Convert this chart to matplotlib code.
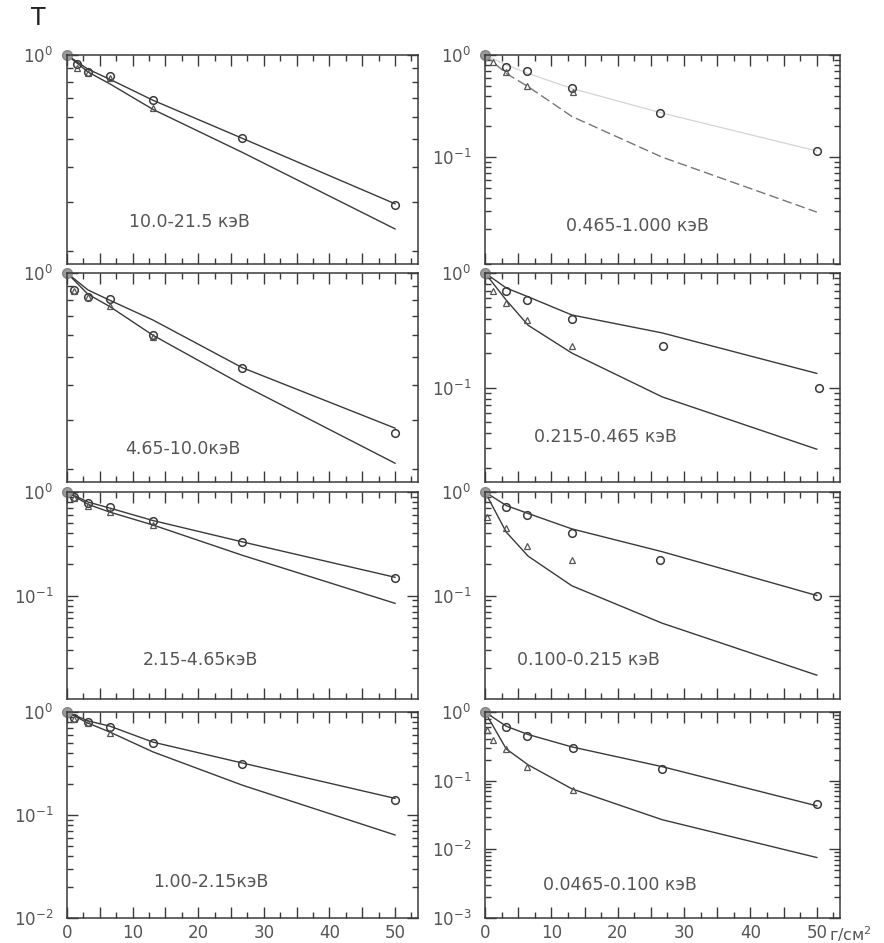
import numpy as np
import matplotlib
matplotlib.use('Agg')
import matplotlib.pyplot as plt
from matplotlib.ticker import MultipleLocator, LogLocator, FixedLocator, FuncFormatter, NullFormatter

# x positions (г/см^2) of the model curves
X_LINE = [0.0, 3.2, 6.5, 13.1, 26.7, 50.0]

# ---- left column ----
p1_label = '10.0-21.5 кэВ'
p1_circ_x = [0.0, 1.6, 3.2, 6.5, 13.1, 26.7, 50.0]
p1_circ_t = [1.0, 0.93, 0.87, 0.84, 0.69, 0.505, 0.293]
p1_tri_x = [1.6, 3.2, 6.5, 13.1]
p1_tri_t = [0.90, 0.86, 0.83, 0.65]
p1_upper = [1.0, 0.89, 0.82, 0.69, 0.505, 0.295]
p1_lower = [1.0, 0.87, 0.79, 0.64, 0.45, 0.24]

p3_label = '4.65-10.0кэВ'
p3_circ_x = [0.0, 1.1, 3.2, 6.5, 13.1, 26.7, 50.0]
p3_circ_t = [1.0, 0.87, 0.82, 0.81, 0.60, 0.46, 0.27]
p3_tri_x = [1.1, 3.2, 6.5, 13.1]
p3_tri_t = [0.86, 0.82, 0.76, 0.59]
p3_upper = [1.0, 0.87, 0.80, 0.68, 0.46, 0.28]
p3_lower = [1.0, 0.84, 0.76, 0.60, 0.40, 0.21]

p5_label = '2.15-4.65кэВ'
p5_circ_x = [0.0, 1.1, 3.2, 6.5, 13.1, 26.7, 50.0]
p5_circ_t = [1.0, 0.90, 0.78, 0.72, 0.53, 0.33, 0.146]
p5_tri_x = [1.1, 3.2, 6.5, 13.1]
p5_tri_t = [0.88, 0.74, 0.64, 0.48]
p5_upper = [1.0, 0.80, 0.70, 0.53, 0.33, 0.15]
p5_lower = [1.0, 0.76, 0.64, 0.48, 0.245, 0.084]

p7_label = '1.00-2.15кэВ'
p7_circ_x = [0.0, 1.1, 3.2, 6.5, 13.1, 26.7, 50.0]
p7_circ_t = [1.0, 0.88, 0.80, 0.71, 0.50, 0.31, 0.14]
p7_tri_x = [1.1, 3.2, 6.5]
p7_tri_t = [0.86, 0.78, 0.62]
p7_upper = [1.0, 0.82, 0.73, 0.51, 0.32, 0.145]
p7_lower = [1.0, 0.78, 0.64, 0.41, 0.195, 0.064]

# ---- right column ----
p2_label = '0.465-1.000 кэВ'
p2_circ_x = [0.0, 3.2, 6.3, 13.1, 26.4, 50.0]
p2_circ_t = [1.0, 0.76, 0.70, 0.47, 0.27, 0.115]
p2_tri_x = [1.2, 3.2, 6.3, 13.2]
p2_tri_t = [0.85, 0.68, 0.50, 0.43]
p2_upper = [1.0, 0.80, 0.66, 0.47, 0.27, 0.115]
p2_lower = [1.0, 0.66, 0.49, 0.25, 0.10, 0.029]

p4_label = '0.215-0.465 кэВ'
p4_circ_x = [0.0, 3.2, 6.3, 13.1, 26.8, 50.4]
p4_circ_t = [1.0, 0.70, 0.58, 0.40, 0.23, 0.10]
p4_tri_x = [1.2, 3.2, 6.3, 13.1]
p4_tri_t = [0.70, 0.545, 0.39, 0.23]
p4_upper = [1.0, 0.74, 0.62, 0.43, 0.30, 0.133]
p4_lower = [1.0, 0.58, 0.35, 0.20, 0.083, 0.029]

p6_label = '0.100-0.215 кэВ'
p6_circ_x = [0.0, 3.2, 6.3, 13.1, 26.4, 50.0]
p6_circ_t = [1.0, 0.72, 0.60, 0.40, 0.22, 0.10]
p6_tri_x = [0.3, 3.2, 6.3, 13.1]
p6_tri_t = [0.57, 0.45, 0.30, 0.22]
p6_upper = [1.0, 0.74, 0.62, 0.44, 0.265, 0.10]
p6_lower = [1.0, 0.41, 0.24, 0.124, 0.054, 0.017]

p8_label = '0.0465-0.100 кэВ'
p8_circ_x = [0.0, 3.2, 6.3, 13.2, 26.7, 50.0]
p8_circ_t = [1.0, 0.61, 0.45, 0.30, 0.15, 0.046]
p8_tri_x = [0.3, 1.2, 3.2, 6.3, 13.2]
p8_tri_t = [0.55, 0.39, 0.29, 0.16, 0.074]
p8_upper = [1.0, 0.62, 0.47, 0.31, 0.16, 0.043]
p8_lower = [1.0, 0.29, 0.17, 0.076, 0.027, 0.0076]

INK = '#3a3a3a'
TXT = '#555555'

# panel layout in figure pixels
cols = [(67, 418), (485, 840)]
rows = [(55, 264), (273, 482), (492, 699), (712, 918)]
W, H = 884, 943

panels = [
    # (col, row, label, label pos, ylim, labelled decades, data...)
    (0, 0, p1_label, (0.35, 0.20), (0.18, 1.0), [1], p1_circ_x, p1_circ_t, p1_tri_x, p1_tri_t, p1_upper, p1_lower),
    (0, 1, p3_label, (0.33, 0.16), (0.18, 1.0), [1], p3_circ_x, p3_circ_t, p3_tri_x, p3_tri_t, p3_upper, p3_lower),
    (0, 2, p5_label, (0.38, 0.19), (0.01, 1.0), [1, 0.1], p5_circ_x, p5_circ_t, p5_tri_x, p5_tri_t, p5_upper, p5_lower),
    (0, 3, p7_label, (0.41, 0.175), (0.01, 1.0), [1, 0.1, 0.01], p7_circ_x, p7_circ_t, p7_tri_x, p7_tri_t, p7_upper, p7_lower),
    (1, 0, p2_label, (0.43, 0.18), (0.009, 1.0), [1, 0.1], p2_circ_x, p2_circ_t, p2_tri_x, p2_tri_t, p2_upper, p2_lower),
    (1, 1, p4_label, (0.34, 0.215), (0.015, 1.0), [1, 0.1], p4_circ_x, p4_circ_t, p4_tri_x, p4_tri_t, p4_upper, p4_lower),
    (1, 2, p6_label, (0.29, 0.19), (0.01, 1.0), [1, 0.1], p6_circ_x, p6_circ_t, p6_tri_x, p6_tri_t, p6_upper, p6_lower),
    (1, 3, p8_label, (0.38, 0.16), (0.001, 1.0), [1, 0.1, 0.01, 0.001], p8_circ_x, p8_circ_t, p8_tri_x, p8_tri_t, p8_upper, p8_lower),
]

fig = plt.figure(figsize=(W / 100, H / 100), dpi=100)


def dec_label(v, pos):
    e = int(round(np.log10(v)))
    return r'$10^{%d}$' % e


for (c, r, label, lpos, ylim, decs, cx, ct, tx, tt, up, lo) in panels:
    x0, x1 = cols[c]
    y0, y1 = rows[r]
    ax = fig.add_axes([x0 / W, 1 - y1 / H, (x1 - x0) / W, (y1 - y0) / H])
    ax.set_yscale('log')
    ax.set_xlim(0, 53.5)
    ax.set_ylim(*ylim)

    # model curves (upper one is almost faded out in the top right panel)
    if c == 1 and r == 0:
        ax.plot(X_LINE, up, color='#d4d4d4', lw=0.9)
        ax.plot(X_LINE, lo, color='#777777', lw=1.0, dashes=(7, 3))
    else:
        ax.plot(X_LINE, up, color=INK, lw=1.0)
        ax.plot(X_LINE, lo, color=INK, lw=1.0)

    # measured points
    ax.plot(cx[1:], ct[1:], 'o', mfc='none', mec=INK, ms=5.5, mew=1.1, clip_on=False)
    ax.plot(tx, tt, '^', mfc='none', mec='#555555', ms=5, mew=0.9, clip_on=False)
    ax.plot(cx[:1], ct[:1], 'o', mfc='#9a9a9a', mec='#888888', ms=7, clip_on=False)

    ax.text(lpos[0], lpos[1], label, transform=ax.transAxes, ha='center', va='center',
            fontsize=12.5, color=TXT)

    # ticks
    ax.xaxis.set_major_locator(MultipleLocator(5))
    ax.xaxis.set_minor_locator(MultipleLocator(2.5))
    if r == 3:
        ax.xaxis.set_major_formatter(FuncFormatter(lambda v, p: f'{int(v)}' if v % 10 == 0 else ''))
    else:
        ax.xaxis.set_major_formatter(NullFormatter())
    ax.yaxis.set_major_locator(FixedLocator(decs))
    ax.yaxis.set_major_formatter(FuncFormatter(dec_label))
    ax.yaxis.set_minor_locator(LogLocator(base=10, subs=np.arange(2, 10), numticks=20))
    ax.yaxis.set_minor_formatter(NullFormatter())
    ax.tick_params(which='both', direction='in', top=True, right=True, color=INK, width=1.0)
    ax.tick_params(which='major', length=8)
    ax.tick_params(which='minor', length=4.5)
    ax.tick_params(axis='y', which='major', labelsize=12, labelcolor=TXT, pad=10)
    ax.tick_params(axis='x', which='major', labelsize=12, labelcolor=TXT, pad=4)
    for s in ax.spines.values():
        s.set_color(INK)
        s.set_linewidth(1.1)
    ax.patch.set_alpha(0)

fig.text(38 / W, 1 - 18 / H, 'Т', ha='center', va='center', fontsize=17, color='#222222')
fig.text(829 / W, 1 - 934 / H, 'г/см$^2$', ha='left', va='center', fontsize=11.5, color=TXT)

fig.savefig('out.png', dpi=100)
